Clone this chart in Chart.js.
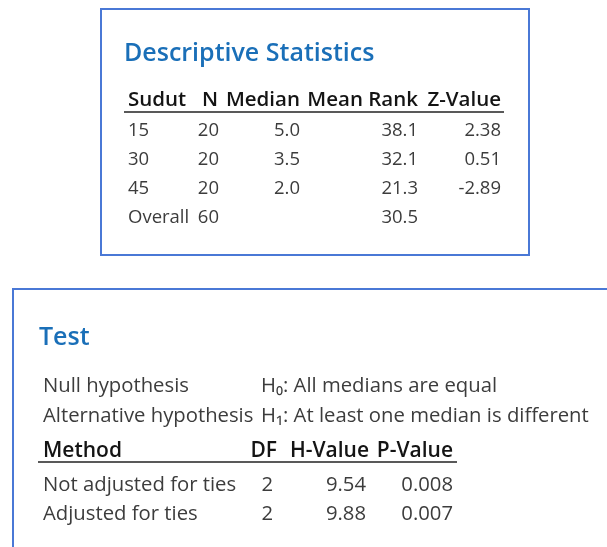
<!DOCTYPE html>
<html>
<head>
<meta charset="utf-8">
<script src="https://cdn.jsdelivr.net/npm/chart.js@4.4.1/dist/chart.umd.min.js"></script>
<style>
  html, body { margin: 0; padding: 0; background: #fff; }
  #wrap { width: 607px; height: 547px; }
</style>
</head>
<body>
<div id="wrap"><canvas id="tables" width="607" height="547"></canvas></div>
<script>
// descriptive statistics table
const descTitle = 'Descriptive Statistics';
const descHeaders = ['Sudut', 'N', 'Median', 'Mean Rank', 'Z-Value'];
const sudut = ['15', '30', '45', 'Overall'];
const nValues = ['20', '20', '20', '60'];
const medians = ['5.0', '3.5', '2.0', ''];
const meanRanks = ['38.1', '32.1', '21.3', '30.5'];
const zValues = ['2.38', '0.51', '-2.89', ''];

// test table
const testTitle = 'Test';
const hypLabels = ['Null hypothesis', 'Alternative hypothesis'];
const hypValues = ['H₀: All medians are equal', 'H₁: At least one median is different'];
const testHeaders = ['Method', 'DF', 'H-Value', 'P-Value'];
const methods = ['Not adjusted for ties', 'Adjusted for ties'];
const dfValues = ['2', '2'];
const hValues = ['9.54', '9.88'];
const pValues = ['0.008', '0.007'];

const FONT = '"Open Sans", "Noto Sans", sans-serif';
const TITLE_COLOR = '#1a6fb8';
const TEXT_COLOR = '#3c3c3c';
const HEAD_COLOR = '#141414';
const BORDER_COLOR = '#4a78d6';

/**
 * Рисует таблицу: первая колонка влево, остальные по правому краю.
 */
function drawTable(ctx, opt) {
    const { x, rights, valueRights, line, headY, rowY, rowH, headFont, bodyFont, headers, columns } = opt;

    ctx.fillStyle = HEAD_COLOR;
    ctx.font = headFont;
    headers.forEach((h, i) => {
        ctx.textAlign = i === 0 ? 'left' : 'right';
        ctx.fillText(h, i === 0 ? x : rights[i - 1], headY);
    });

    ctx.strokeStyle = '#595959';
    ctx.lineWidth = 2;
    ctx.beginPath();
    ctx.moveTo(line[0], line[2]);
    ctx.lineTo(line[1], line[2]);
    ctx.stroke();

    ctx.fillStyle = TEXT_COLOR;
    ctx.font = bodyFont;
    columns.forEach((col, i) => {
        ctx.textAlign = i === 0 ? 'left' : 'right';
        col.forEach((v, r) => {
            ctx.fillText(v, i === 0 ? x : valueRights[i - 1], rowY + r * rowH);
        });
    });
    ctx.textAlign = 'left';
}

const tablesPlugin = {
    id: 'tables',
    afterDraw(chart) {
        const ctx = chart.ctx;
        ctx.save();
        ctx.textBaseline = 'alphabetic';

        // box 1
        ctx.strokeStyle = BORDER_COLOR;
        ctx.lineWidth = 2;
        ctx.strokeRect(101, 9, 428, 246);

        ctx.fillStyle = TITLE_COLOR;
        ctx.font = '600 25px ' + FONT;
        ctx.fillText(descTitle, 124, 61);

        drawTable(ctx, {
            x: 128,
            rights: [218, 300, 418, 501],
            valueRights: [219, 300, 418, 501],
            line: [124, 504, 112],
            headY: 106, rowY: 136, rowH: 29,
            headFont: '600 20.5px ' + FONT,
            bodyFont: '18.5px ' + FONT,
            headers: descHeaders,
            columns: [sudut, nValues, medians, meanRanks, zValues]
        });

        // box 2
        ctx.strokeStyle = BORDER_COLOR;
        ctx.lineWidth = 2;
        ctx.strokeRect(13, 289, 700, 400);

        ctx.fillStyle = TITLE_COLOR;
        ctx.font = '600 25px ' + FONT;
        ctx.fillText(testTitle, 39, 345);

        ctx.fillStyle = TEXT_COLOR;
        ctx.font = '20.3px ' + FONT;
        hypLabels.forEach((l, i) => {
            ctx.fillText(l, 43, 392 + i * 30);
            ctx.fillText(hypValues[i], 261, 392 + i * 30);
        });

        drawTable(ctx, {
            x: 43,
            rights: [277, 369, 453],
            valueRights: [273, 366, 453],
            line: [38, 457, 462],
            headY: 457, rowY: 491, rowH: 29,
            headFont: '600 21px ' + FONT,
            bodyFont: '20.3px ' + FONT,
            headers: testHeaders,
            columns: [methods, dfValues, hValues, pValues]
        });

        ctx.restore();
    }
};

new Chart(document.getElementById('tables'), {
    type: 'bar',
    data: { labels: [], datasets: [] },
    options: {
        responsive: false,
        animation: false,
        events: [],
        plugins: { legend: { display: false }, tooltip: { enabled: false } },
        scales: { x: { display: false }, y: { display: false } }
    },
    plugins: [tablesPlugin]
});
</script>
</body>
</html>
